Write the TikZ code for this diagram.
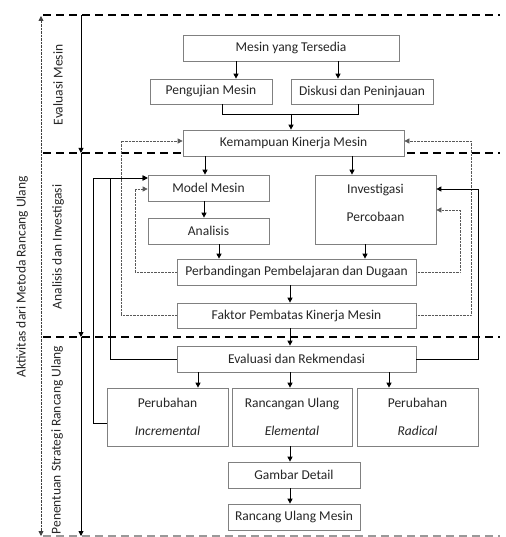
\documentclass[tikz,border=0pt]{standalone}
\usepackage{fontspec}
\setmainfont{Carlito}
\usetikzlibrary{arrows.meta}
\begin{document}
\begin{tikzpicture}[x=1pt,y=-1pt,
  box/.style={draw=black!50, line width=0.7pt, fill=white, inner sep=0pt, text=black!85, font=\fontsize{13.5}{16}\selectfont},
  two/.style={box, align=center, font=\fontsize{13.5}{27.5}\selectfont},
  lab/.style={text=black!85, font=\fontsize{13.5}{16}\selectfont, inner sep=0pt, rotate=90},
  tip/.style={-{Triangle[length=5pt,width=5pt]}},
  arr/.style={line width=0.9pt, black, tip},
  plain/.style={line width=0.9pt, black},
  dot/.style={line width=0.7pt, black!65, dash pattern=on 0.7pt off 0.7pt, tip},
  sect/.style={line width=1.7pt, black, dash pattern=on 8pt off 5pt},
  sectlight/.style={line width=1.3pt, black!40, dash pattern=on 8pt off 5pt},
]
\useasboundingbox (0,0) rectangle (505,537);

% section separators
\coordinate (h0l) at (43,15);  \coordinate (h0r) at (500,15);
\coordinate (h1l) at (43,153); \coordinate (h1r) at (500,153);
\coordinate (h2l) at (43,337); \coordinate (h2r) at (500,337);
\coordinate (h3l) at (43,536); \coordinate (h3r) at (500,536);
\draw[sect] (h0l) -- (h0r);
\draw[sect] (h1l) -- (h1r);
\draw[sect] (h2l) -- (h2r);
\draw[sectlight] (h3l) -- (h3r);

% left axes
\coordinate (d0) at (41,16); \coordinate (d1) at (41,536);
\draw[line width=0.8pt, black!75, dash pattern=on 0.7pt off 0.7pt, {Triangle[length=5pt,width=5pt]}-{Triangle[length=5pt,width=5pt]}] (d0) -- (d1);
\coordinate (v0) at (81,15); \coordinate (v1) at (81,153);
\coordinate (v2) at (81,337); \coordinate (v3) at (81,536);
\draw[arr] (v0) -- (v1);
\draw[arr] (v1) -- (v2);
\draw[arr] (v2) -- (v3);

\node[lab] (lA) at (22,277) {Aktivitas dari Metoda Rancang Ulang};
\node[lab] (lE) at (58,85) {Evaluasi Mesin};
\node[lab] (lI) at (58,247) {Analisis dan Investigasi};
\node[lab] (lP) at (57,440) {Penentuan Strategi Rancang Ulang};

% boxes
\node[box, minimum width=216pt, minimum height=26pt] (m1) at (291,48) {Mesin yang Tersedia};
\node[box, minimum width=122pt, minimum height=25pt] (pm) at (211,91.5) {Pengujian Mesin};
\node[box, minimum width=142pt, minimum height=25pt] (dp) at (362,91.5) {Diskusi dan Peninjauan};
\node[box, minimum width=221pt, minimum height=26pt] (km) at (293.5,143) {Kemampuan Kinerja Mesin};
\node[box, minimum width=121pt, minimum height=26pt] (mm) at (208.5,188) {Model Mesin};
\node[box, minimum width=121pt, minimum height=26pt] (an) at (208.5,231) {Analisis};
\node[box, minimum width=121pt, minimum height=69pt] (ip) at (375.5,209.5) {};
\node[two, draw=none, fill=none] (ipt) at (375.5,203) {Investigasi\\Percobaan};
\node[box, minimum width=239pt, minimum height=26pt] (pb) at (296.5,272) {Perbandingan Pembelajaran dan Dugaan};
\node[box, minimum width=239pt, minimum height=25pt] (fk) at (296.5,315.5) {Faktor Pembatas Kinerja Mesin};
\node[box, minimum width=239pt, minimum height=26pt] (ev) at (296.5,359) {Evaluasi dan Rekmendasi};
\node[two, minimum width=121pt, minimum height=58pt] (pi) at (167.5,417) {Perubahan\\\textit{Incremental}};
\node[two, minimum width=120pt, minimum height=58pt] (ru) at (292,417) {Rancangan Ulang\\\textit{Elemental}};
\node[two, minimum width=121pt, minimum height=58pt] (pr) at (417.5,417) {Perubahan\\\textit{Radical}};
\node[box, minimum width=132pt, minimum height=26pt] (gd) at (294,475) {Gambar Detail};
\node[box, minimum width=132pt, minimum height=26pt] (rm) at (294,517) {Rancang Ulang Mesin};

% helper coordinates
\coordinate (xa) at (236,0); \coordinate (xb) at (338,0);
\coordinate (xc) at (222,0); \coordinate (xd) at (358,0);
\coordinate (xe) at (291,0); \coordinate (jy) at (0,114);
\coordinate (xf) at (205,0); \coordinate (xg) at (352,0);
\coordinate (xh) at (204,0); \coordinate (xi) at (219,0);
\coordinate (xj) at (365,0); \coordinate (xk) at (290,0);
\coordinate (xl) at (198,0); \coordinate (xm) at (389,0);
\coordinate (xn) at (135,0); \coordinate (xp) at (460,0);
\coordinate (yq) at (0,210); \coordinate (xr) at (121,0);
\coordinate (xt) at (471,0); \coordinate (yk) at (0,141);
\coordinate (xu) at (110,0); \coordinate (yv) at (0,178);
\coordinate (xw) at (93,0);  \coordinate (yz) at (0,423);
\coordinate (xx) at (478,0); \coordinate (yy) at (0,189);

% connectors
\draw[arr] (m1.south -| xa) -- (pm.north -| xa);
\draw[arr] (m1.south -| xb) -- (dp.north -| xb);
\draw[plain] (pm.south -| xc) -- (xc |- jy) -- (xd |- jy) -- (dp.south -| xd);
\draw[arr] (xe |- jy) -- (km.north -| xe);
\draw[arr] (km.south -| xf) -- (mm.north -| xf);
\draw[arr] (km.south -| xg) -- (ip.north -| xg);
\draw[arr] (mm.south -| xh) -- (an.north -| xh);
\draw[arr] (an.south -| xi) -- (pb.north -| xi);
\draw[arr] (ip.south -| xj) -- (pb.north -| xj);
\draw[arr] (pb.south -| xk) -- (fk.north -| xk);
\draw[arr] (fk.south -| xk) -- (ev.north -| xk);
\draw[arr] (ev.south -| xl) -- (pi.north -| xl);
\draw[arr] (ev.south -| xk) -- (ru.north -| xk);
\draw[arr] (ev.south -| xm) -- (pr.north -| xm);
\draw[arr] (ru.south -| xk) -- (gd.north -| xk);
\draw[arr] (gd.south -| xk) -- (rm.north -| xk);

% dotted feedback
\draw[dot] (pb.west) -- (pb.west -| xn) |- (mm.west |- yy);
\draw[dot] (pb.east) -- (pb.east -| xp) |- (ip.east |- yq);
\draw[dot] (fk.west) -- (fk.west -| xr) |- (km.west |- yk);
\draw[dot] (fk.east) -- (fk.east -| xt) |- (km.east |- yk);

% solid feedback
\draw[arr] (ev.west) -- (ev.west -| xu) |- (mm.west |- yv);
\draw[arr] (pi.west |- yz) -- (xw |- yz) |- (mm.west |- yv);
\draw[arr] (ev.east) -- (ev.east -| xx) |- (ip.east |- yy);
\end{tikzpicture}
\end{document}
